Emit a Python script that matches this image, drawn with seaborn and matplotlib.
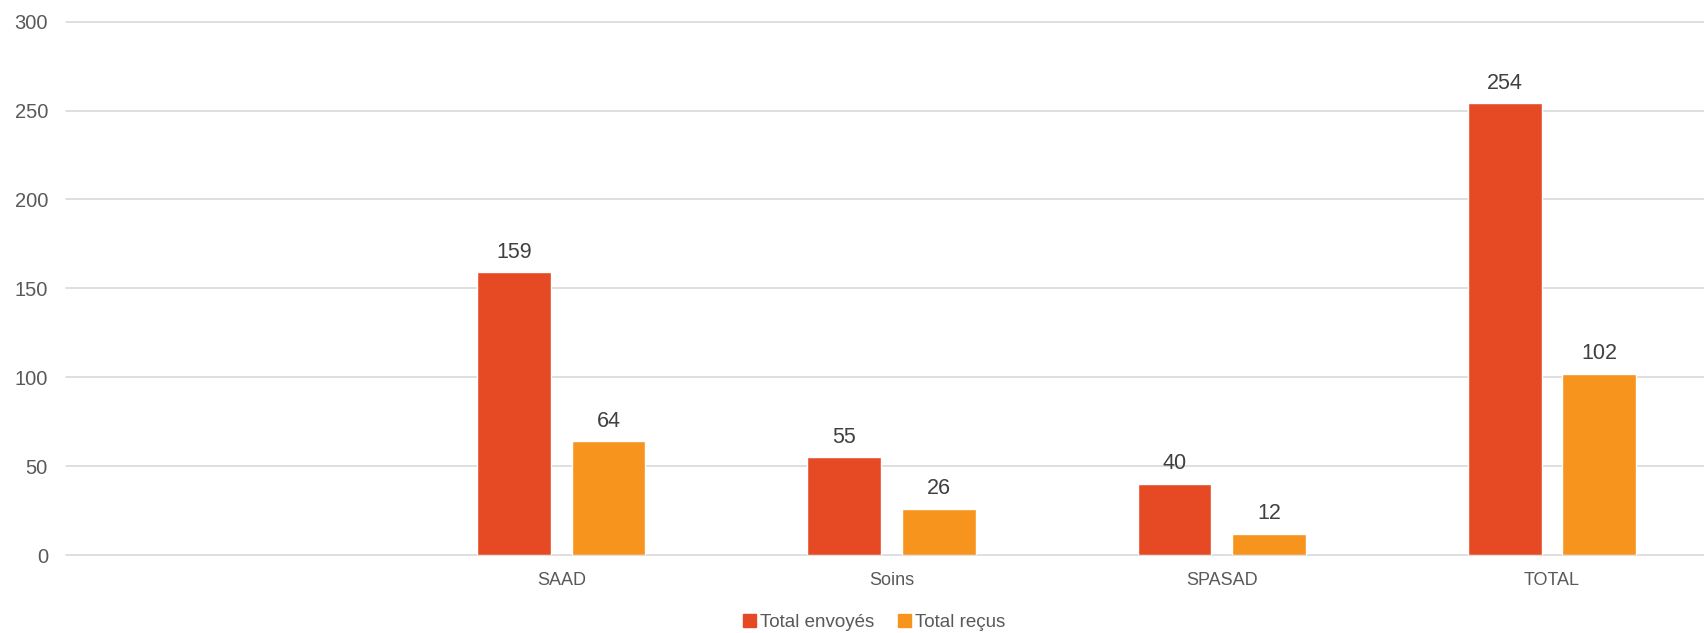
import pandas as pd
import matplotlib
matplotlib.use("Agg")
import matplotlib.pyplot as plt
import seaborn as sns

# Data
categories = ["", "SAAD", "Soins", "SPASAD", "TOTAL"]
data_cats = ["SAAD", "Soins", "SPASAD", "TOTAL"]
sent = [159, 55, 40, 254]
received = [64, 26, 12, 102]
series_names = ["Total envoyés", "Total reçus"]
colors = ["#E64A24", "#F7941E"]

df = pd.DataFrame({
    "cat": data_cats * 2,
    "value": sent + received,
    "serie": [series_names[0]] * 4 + [series_names[1]] * 4,
})

sns.set_style("white")
plt.rcParams["font.family"] = ["Liberation Sans", "DejaVu Sans"]

fig = plt.figure(figsize=(17.04, 6.33), dpi=100)
ax = fig.add_axes([0.0387, 0.1232, 0.969, 0.8425])

sns.barplot(data=df, x="cat", y="value", hue="serie", order=categories,
            hue_order=series_names, palette=colors, width=0.572, gap=0.22,
            saturation=1, ax=ax, errorbar=None)

for cont in ax.containers:
    ax.bar_label(cont, padding=7, fontsize=15.5, color="#404040")

ax.set_ylim(0, 300)
ax.set_yticks(range(0, 301, 50))
ax.set_xlim(-0.5, 4.5)
ax.yaxis.grid(True, color="#d9d9d9", linewidth=1.2)
for gl in ax.get_ygridlines():
    gl.set_clip_on(False)
ax.set_axisbelow(True)
for s in ax.spines.values():
    s.set_visible(False)
ax.tick_params(axis="both", length=0, colors="#595959", labelsize=14.5)
ax.tick_params(axis="y", pad=13)
ax.tick_params(axis="x", pad=12, labelsize=13)
ax.set_xlabel("")
ax.set_ylabel("")

ax.legend_.remove()
handles = [plt.Rectangle((0, 0), 1, 1, color=c) for c in colors]
fig.legend(handles, series_names, loc="center", bbox_to_anchor=(0.513, 0.017),
           ncol=2, frameon=False, fontsize=13.5, handlelength=0.7,
           handleheight=0.7, handletextpad=0.2, columnspacing=1.3,
           labelcolor="#595959")

fig.savefig("out.png", dpi=100)
